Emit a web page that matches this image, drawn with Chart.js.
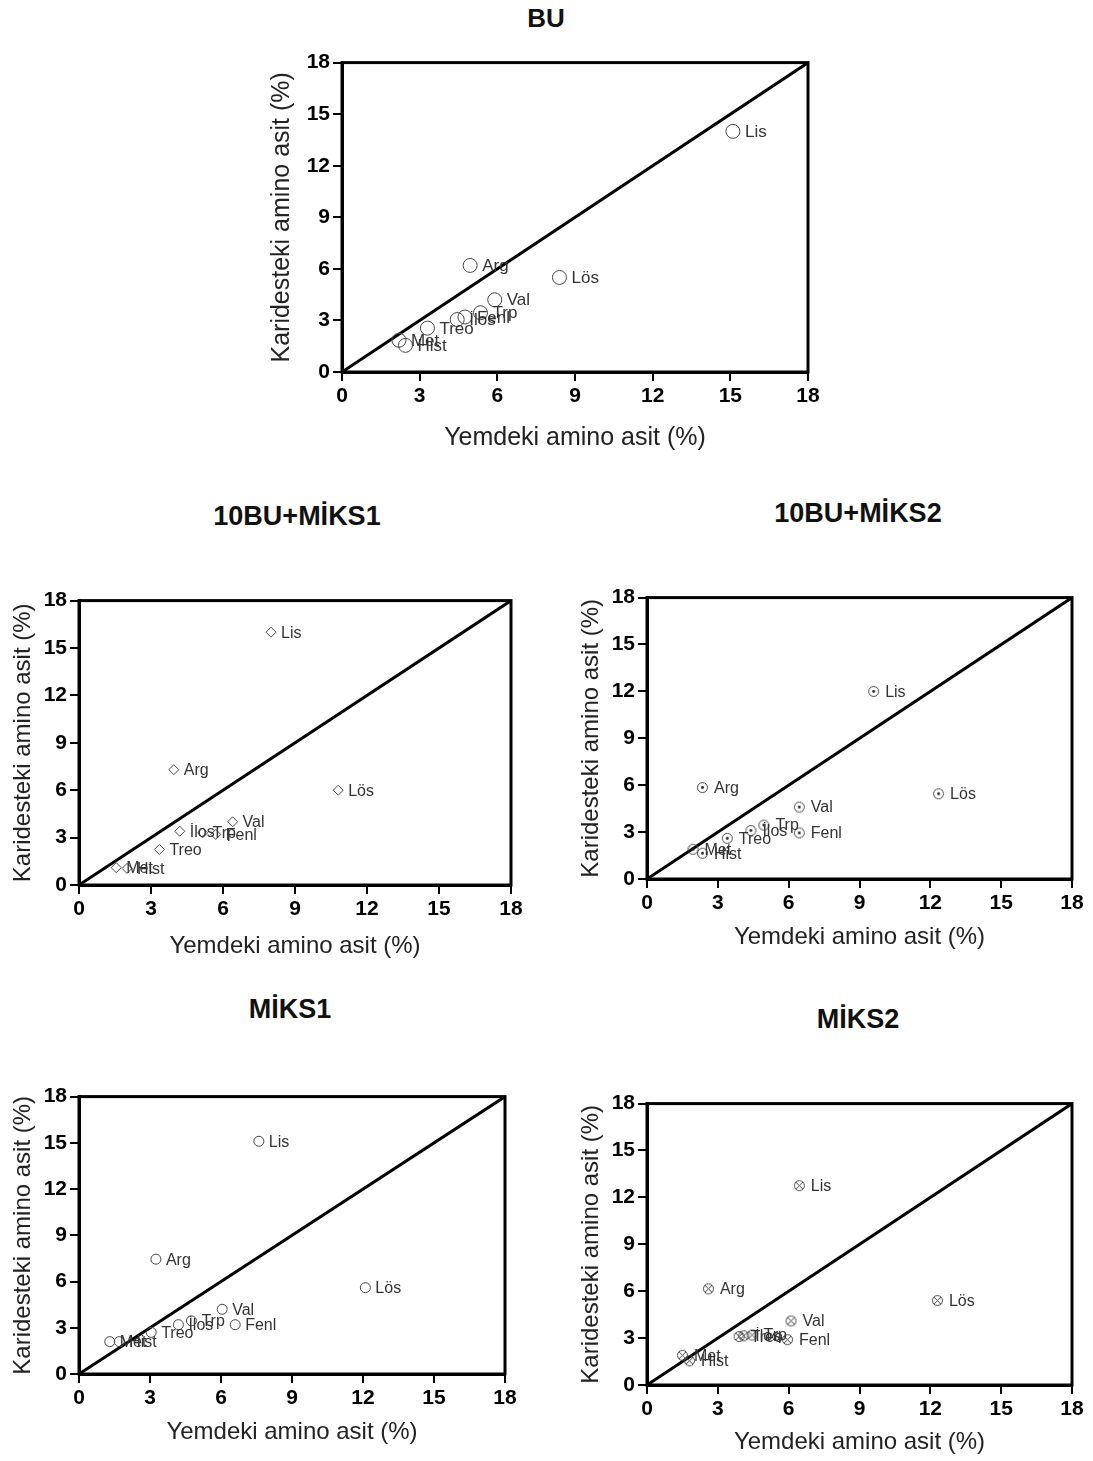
<!DOCTYPE html>
<html>
<head>
<meta charset="utf-8">
<script src="https://cdn.jsdelivr.net/npm/chart.js@4"></script>
<style>
  body { margin: 0; background: #fff; width: 1093px; height: 1461px; overflow: hidden; position: relative;
         font-family: 'Liberation Sans', Arial, sans-serif; }
  .panel-title { position: absolute; font-weight: bold; font-size: 27px; color: #111;
                 transform: translate(-50%, -50%); white-space: nowrap; }
  canvas { position: absolute; }
</style>
</head>
<body>

<div class="panel-title" style="left:546px;top:18px;font-size:26px">BU</div>
<div class="panel-title" style="left:297px;top:516px">10BU+MİKS1</div>
<div class="panel-title" style="left:858px;top:513px">10BU+MİKS2</div>
<div class="panel-title" style="left:290px;top:1009px">MİKS1</div>
<div class="panel-title" style="left:858px;top:1019px">MİKS2</div>

<canvas id="bu" width="565" height="410" style="left:263px;top:47px"></canvas>
<canvas id="bu10miks1" width="526" height="380" style="left:5px;top:585px"></canvas>
<canvas id="bu10miks2" width="519" height="374" style="left:573px;top:582px"></canvas>
<canvas id="miks1" width="520" height="370" style="left:5px;top:1081px"></canvas>
<canvas id="miks2" width="519" height="373" style="left:573px;top:1088px"></canvas>

<script>
// ---- data ----
const aminoAcids = ['Lis', 'Arg', 'Lös', 'Val', 'Trp', 'Fenl', 'İlos', 'Treo', 'Met', 'Hist'];
const axisTicks = [0, 3, 6, 9, 12, 15, 18];

// feed (x) and shrimp (y) amino acid %, same order as aminoAcids
const buFeed     = [15.1, 4.95, 8.4, 5.9, 5.35, 4.75, 4.45, 3.3, 2.2, 2.45];
const buShrimp   = [14.0, 6.2, 5.5, 4.2, 3.45, 3.2, 3.05, 2.55, 1.85, 1.55];

const bm1Feed    = [8.0, 3.95, 10.8, 6.4, 5.15, 5.7, 4.2, 3.35, 1.55, 2.0];
const bm1Shrimp  = [16.0, 7.3, 6.0, 4.0, 3.3, 3.2, 3.4, 2.25, 1.1, 1.05];

const bm2Feed    = [9.6, 2.35, 12.35, 6.45, 4.95, 6.45, 4.4, 3.4, 1.95, 2.35];
const bm2Shrimp  = [12.0, 5.85, 5.45, 4.6, 3.45, 2.95, 3.1, 2.6, 1.9, 1.65];

const m1Feed     = [7.6, 3.25, 12.1, 6.05, 4.75, 6.6, 4.2, 3.05, 1.3, 1.7];
const m1Shrimp   = [15.1, 7.45, 5.6, 4.2, 3.45, 3.2, 3.2, 2.7, 2.1, 2.1];

const m2Feed     = [6.45, 2.6, 12.3, 6.1, 4.45, 5.95, 4.1, 3.9, 1.5, 1.8];
const m2Shrimp   = [12.75, 6.15, 5.4, 4.1, 3.2, 2.9, 3.15, 3.1, 1.9, 1.55];

const FONT = "'Liberation Sans', Arial, sans-serif";

// marker images for the circle-with-dot and circle-with-cross styles
function ringMarker(size, inner) {
    const c = document.createElement('canvas');
    c.width = size;
    c.height = size;
    const g = c.getContext('2d');
    const m = size / 2;
    g.strokeStyle = '#444';
    g.lineWidth = 1;
    g.beginPath();
    g.arc(m, m, m - 1.5, 0, Math.PI * 2);
    g.stroke();
    if (inner === 'dot') {
        g.fillStyle = '#222';
        g.beginPath();
        g.arc(m, m, 1.4, 0, Math.PI * 2);
        g.fill();
    }
    if (inner === 'cross') {
        const d = (m - 1.5) * 0.7;
        g.beginPath();
        g.moveTo(m - d, m - d); g.lineTo(m + d, m + d);
        g.moveTo(m + d, m - d); g.lineTo(m - d, m + d);
        g.stroke();
    }
    return c;
}

// full box round the plot area
const framePlugin = {
    id: 'frame',
    beforeDatasetsDraw(chart) {
        const a = chart.chartArea;
        const ctx = chart.ctx;
        ctx.save();
        ctx.strokeStyle = '#000';
        ctx.lineWidth = 3;
        ctx.strokeRect(a.left, a.top, a.right - a.left, a.bottom - a.top);
        ctx.restore();
    }
};

// amino acid name to the right of each point
const labelPlugin = {
    id: 'pointLabels',
    afterDatasetsDraw(chart) {
        const ctx = chart.ctx;
        chart.data.datasets.forEach((ds, i) => {
            if (!ds.names) return;
            const meta = chart.getDatasetMeta(i);
            ctx.save();
            ctx.font = ds.labelSize + 'px ' + FONT;
            ctx.fillStyle = '#333';
            ctx.textBaseline = 'middle';
            meta.data.forEach((pt, j) => {
                ctx.fillText(ds.names[j], pt.x + ds.pointRadius + 5, pt.y + 1);
            });
            ctx.restore();
        });
    }
};

function axis(titleText, titleSize, fit) {
    return {
        type: 'linear',
        min: axisTicks[0],
        max: axisTicks[axisTicks.length - 1],
        afterBuildTicks: s => { s.ticks = axisTicks.map(v => ({ value: v })); },
        afterFit: fit,
        border: { display: true, color: '#000', width: 3 },
        grid: { drawOnChartArea: false, drawTicks: true, tickLength: 9, color: '#000', lineWidth: 2 },
        ticks: { color: '#000', font: { size: 21, weight: 'bold', family: FONT }, padding: 3, maxRotation: 0 },
        title: { display: true, text: titleText, color: '#222', font: { size: titleSize, family: FONT } }
    };
}

function drawPanel(id, feed, shrimp, marker, radius, labelSize, titleSize, yWidth, xHeight) {
    const points = feed.map((v, i) => ({ x: v, y: shrimp[i] }));
    const lo = axisTicks[0];
    const hi = axisTicks[axisTicks.length - 1];

    new Chart(document.getElementById(id), {
        type: 'scatter',
        data: {
            datasets: [
                {
                    data: points,
                    names: aminoAcids,
                    labelSize: labelSize,
                    pointStyle: marker,
                    pointRadius: radius,
                    borderColor: '#444',
                    borderWidth: 1,
                    backgroundColor: 'rgba(0,0,0,0)'
                },
                {
                    data: [{ x: lo, y: lo }, { x: hi, y: hi }],
                    showLine: true,
                    borderColor: '#000',
                    borderWidth: 3,
                    pointRadius: 0
                }
            ]
        },
        options: {
            responsive: false,
            animation: false,
            layout: { padding: { top: 12, right: 20 } },
            plugins: {
                legend: { display: false },
                tooltip: { enabled: false }
            },
            scales: {
                x: axis('Yemdeki amino asit (%)', titleSize, s => { s.height = xHeight; }),
                y: axis('Karidesteki amino asit (%)', titleSize, s => { s.width = yWidth; })
            }
        },
        plugins: [framePlugin, labelPlugin]
    });
}

drawPanel('bu', buFeed, buShrimp, 'circle', 7, 17, 25, 79, 85);
drawPanel('bu10miks1', bm1Feed, bm1Shrimp, 'rectRot', 5, 16, 24, 74, 80);
drawPanel('bu10miks2', bm2Feed, bm2Shrimp, ringMarker(13, 'dot'), 6.5, 16, 24, 74, 77);
drawPanel('miks1', m1Feed, m1Shrimp, 'circle', 5, 16, 24, 74, 77);
drawPanel('miks2', m2Feed, m2Shrimp, ringMarker(13, 'cross'), 6.5, 16, 24, 74, 76);
</script>
</body>
</html>
